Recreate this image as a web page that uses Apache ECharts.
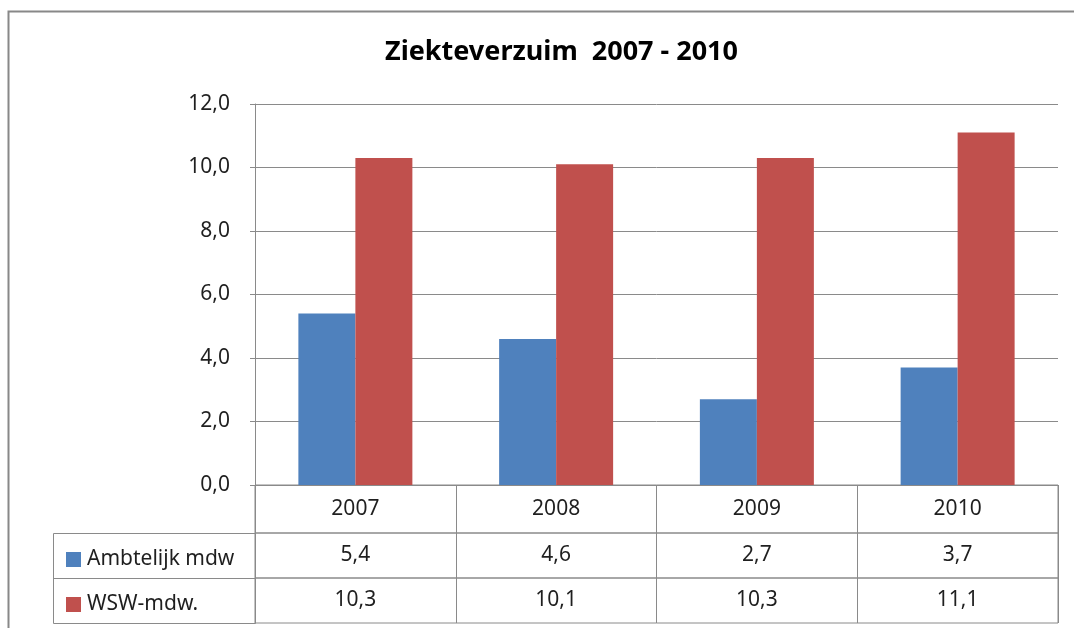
<!DOCTYPE html>
<html>
<head>
<meta charset="utf-8">
<script src="https://cdn.jsdelivr.net/npm/echarts@6/dist/echarts.min.js"></script>
<style>
  html, body { margin: 0; padding: 0; background: #fff; }
  #chart { width: 1074px; height: 628px; }
</style>
</head>
<body>
<div id="chart"></div>
<script>
// jaren en reeksen
var years = ['2007', '2008', '2009', '2010'];
var ambtelijk = [5.4, 4.6, 2.7, 3.7];
var wsw = [10.3, 10.1, 10.3, 11.1];
var seriesNames = ['Ambtelijk mdw', 'WSW-mdw.'];

var FONT = '"Noto Sans", sans-serif';
var TXT = '#1f1f1f';
var LINE = '#8a8a8a';
var FS = 21;

function nl(v) { return v.toFixed(1).replace('.', ','); }

var chart = echarts.init(document.getElementById('chart'));

// rij van de datatabel (grid met rand, labels in het midden van de cel)
function rowAxis(gridIndex, labels, height) {
  return {
    type: 'category', gridIndex: gridIndex, data: years, position: 'bottom',
    axisLine: { show: false }, axisTick: { show: false },
    splitLine: { show: true, interval: 0, lineStyle: { color: LINE, width: 1 } },
    axisLabel: {
      interval: 0, margin: -height / 2, verticalAlign: 'middle',
      color: TXT, fontFamily: FONT, fontSize: FS,
      formatter: function (v, i) { return labels[i]; }
    }
  };
}
function rowY(gridIndex) {
  return { type: 'value', gridIndex: gridIndex, show: false };
}

var option = {
  animation: false,
  backgroundColor: '#fff',
  title: {
    text: 'Ziekteverzuim  2007 - 2010',
    left: 380, top: 34,
    textStyle: { fontFamily: FONT, fontSize: 27, fontWeight: 'bold', color: '#000' }
  },
  legend: {
    orient: 'vertical', left: 61, top: 544, itemGap: 24,
    itemWidth: 15, itemHeight: 15, icon: 'rect',
    data: seriesNames,
    textStyle: { fontFamily: FONT, fontSize: FS, lineHeight: 21, color: TXT, padding: [0, 0, 0, 1] }
  },
  grid: [
    { left: 255, right: 16, top: 104, bottom: 143 },
    { left: 255, right: 16, top: 485, height: 48, show: true, borderColor: LINE, borderWidth: 1 },
    { left: 255, right: 16, top: 533, height: 45, show: true, borderColor: LINE, borderWidth: 1 },
    { left: 255, right: 16, top: 578, height: 45, show: true, borderColor: LINE, borderWidth: 1 }
  ],
  xAxis: [
    {
      type: 'category', gridIndex: 0, data: years,
      axisLine: { show: true, lineStyle: { color: LINE } },
      axisTick: { show: false }, axisLabel: { show: false }
    },
    rowAxis(1, years, 48),
    rowAxis(2, ambtelijk.map(nl), 45),
    rowAxis(3, wsw.map(nl), 45)
  ],
  yAxis: [
    {
      type: 'value', gridIndex: 0, min: 0, max: 12, interval: 2,
      axisLine: { show: true, lineStyle: { color: LINE } },
      axisTick: { show: true, length: 5, lineStyle: { color: LINE } },
      splitLine: { lineStyle: { color: LINE, width: 1 } },
      axisLabel: { margin: 25, color: TXT, fontFamily: FONT, fontSize: FS, formatter: nl }
    },
    rowY(1), rowY(2), rowY(3)
  ],
  series: [
    {
      name: seriesNames[0], type: 'bar', data: ambtelijk,
      barWidth: 57, barGap: 0,
      itemStyle: { color: '#4F81BD' }
    },
    {
      name: seriesNames[1], type: 'bar', data: wsw,
      barWidth: 57, barGap: 0,
      itemStyle: { color: '#C0504D' }
    }
  ],
  graphic: [
    // buitenrand van de grafiek
    { type: 'rect', shape: { x: 8.5, y: 11.5, width: 1080, height: 640 },
      style: { fill: null, stroke: '#888', lineWidth: 2 }, silent: true },
    // legendakolom van de datatabel
    { type: 'rect', shape: { x: 53.5, y: 533.5, width: 202, height: 90 },
      style: { fill: null, stroke: LINE, lineWidth: 1 }, silent: true },
    { type: 'line', shape: { x1: 53.5, y1: 578.5, x2: 255.5, y2: 578.5 },
      style: { stroke: LINE, lineWidth: 1 }, silent: true }
  ]
};

chart.setOption(option);
</script>
</body>
</html>
